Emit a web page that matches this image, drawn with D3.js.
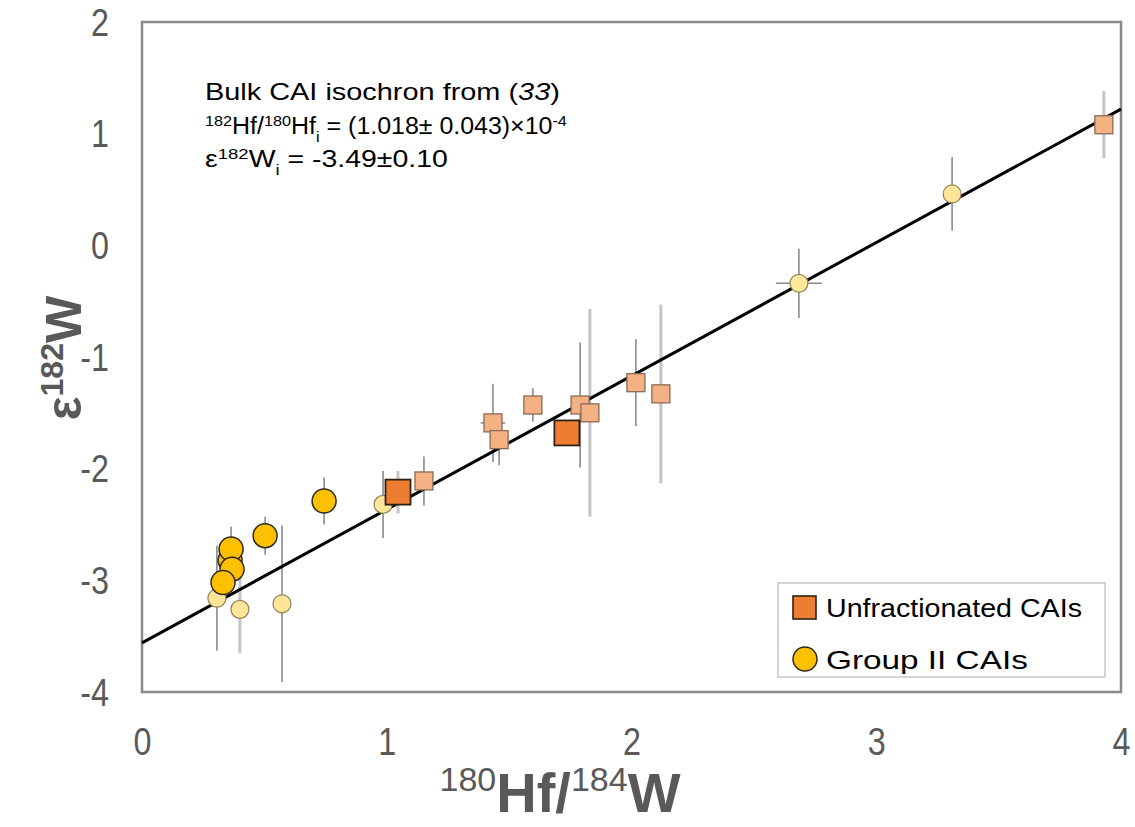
<!DOCTYPE html>
<html><head><meta charset="utf-8">
<script src="https://cdn.jsdelivr.net/npm/d3@7"></script>
<style>body{margin:0;background:#fff}</style>
</head><body>
<svg id="c" width="1135" height="827"></svg>
<script>
// ---- data ----
const xTicks = [0, 1, 2, 3, 4];
const yTicks = [2, 1, 0, -1, -2, -3, -4];
const isochron = [[0, -3.56], [4, 1.22]];
// other (fractionated) CAIs, squares: x, y, yErr, xErr, bar style (t = thin dark, w = wide light)
const lightSquares = [
  {x: 3.93, y: 1.08, ey: 0.30, ex: 0, s: "w"},
  {x: 1.152, y: -2.11, ey: 0.22, ex: 0, s: "t"},
  {x: 1.434, y: -1.59, ey: 0.35, ex: 0.05, s: "t"},
  {x: 1.459, y: -1.74, ey: 0.23, ex: 0, s: "t"},
  {x: 1.597, y: -1.43, ey: 0.15, ex: 0, s: "t"},
  {x: 1.79, y: -1.43, ey: 0.56, ex: 0, s: "t"},
  {x: 1.83, y: -1.50, ey: 0.93, ex: 0, s: "w"},
  {x: 2.018, y: -1.23, ey: 0.39, ex: 0, s: "t"},
  {x: 2.12, y: -1.33, ey: 0.80, ex: 0, s: "w"}
];
const unfractionated = [
  {x: 1.046, y: -2.21, ey: 0.19, ex: 0, s: "w"},
  {x: 1.736, y: -1.68, ey: 0.10, ex: 0, s: "t"}
];
// other CAIs, small circles
const lightCircles = [
  {x: 3.31, y: 0.46, ey: 0.33, ex: 0, s: "t"},
  {x: 2.684, y: -0.34, ey: 0.31, ex: 0.094, s: "t"},
  {x: 0.985, y: -2.32, ey: 0.30, ex: 0, s: "t"},
  {x: 0.306, y: -3.16, ey: 0.47, ex: 0, s: "t"},
  {x: 0.40, y: -3.26, ey: 0.39, ex: 0, s: "w"},
  {x: 0.572, y: -3.21, ey: 0.70, ex: 0, s: "t"}
];
const groupII = [
  {x: 0.744, y: -2.29, ey: 0.21, ex: 0, s: "t"},
  {x: 0.503, y: -2.60, ey: 0.17, ex: 0, s: "t"},
  {x: 0.36, y: -2.82, ey: 0.20, ex: 0, s: "w"},
  {x: 0.364, y: -2.72, ey: 0.20, ex: 0, s: "t"},
  {x: 0.368, y: -2.90, ey: 0.15, ex: 0, s: "t"},
  {x: 0.331, y: -3.02, ey: 0.15, ex: 0, s: "t"}
];
const legendLabels = ["Unfractionated CAIs", "Group II CAIs"];

// ---- layout ----
const svg = d3.select("#c");
const L = 142, R = 1121, T = 22, B = 692;
const x = d3.scaleLinear().domain([0, 4]).range([L, R]);
const y = d3.scaleLinear().domain([-4, 2]).range([B, T]);
const txt = "#595959";
const sans = "'Liberation Sans',Arial,sans-serif";
function fitWidth(sel, x0, target) {
  const w = sel.node().getBBox().width;
  const s = target / w;
  sel.attr("transform", `translate(${x0},0) scale(${s},1) translate(${-x0},0)`);
}

// frame
svg.append("rect").attr("x", L).attr("y", T).attr("width", R - L).attr("height", B - T)
  .attr("fill", "none").attr("stroke", "#898989").attr("stroke-width", 2.5);

// axes (labels only, condensed digits)
const xAxis = svg.append("g").attr("transform", `translate(0,${B})`)
  .call(d3.axisBottom(x).tickValues(xTicks).tickSize(0).tickPadding(36).tickFormat(d => String(d)));
xAxis.select(".domain").remove();
xAxis.selectAll("text").attr("fill", txt).attr("font-size", 38).attr("font-family", sans)
  .attr("transform", "scale(0.85,1)");
const yAxis = svg.append("g").attr("transform", `translate(${L},0)`)
  .call(d3.axisLeft(y).tickValues(yTicks).tickSize(0).tickPadding(33).tickFormat(d => String(d)));
yAxis.select(".domain").remove();
yAxis.selectAll("text").attr("fill", txt).attr("font-size", 38).attr("font-family", sans).attr("dy", "0.35em")
  .attr("transform", "translate(-33,0) scale(0.85,1) translate(33,0)");

// axis titles
const yl = svg.append("text").attr("transform", "translate(81,358) rotate(-90)")
  .attr("text-anchor", "middle").attr("fill", txt).attr("font-weight", "bold")
  .attr("font-family", sans).attr("font-size", 50);
yl.append("tspan").text("ε");
yl.append("tspan").attr("font-size", 32).attr("dy", -18).text("182");
yl.append("tspan").attr("dy", 18).text("W");

const xl = svg.append("text").attr("x", 560).attr("y", 812)
  .attr("text-anchor", "middle").attr("fill", txt).attr("font-weight", "bold")
  .attr("font-family", sans).attr("font-size", 56);
xl.append("tspan").attr("font-size", 34).attr("font-weight", "normal").attr("dy", -21).text("180");
xl.append("tspan").attr("dy", 21).text("Hf/");
xl.append("tspan").attr("font-size", 34).attr("font-weight", "normal").attr("dy", -21).text("184");
xl.append("tspan").attr("dy", 21).text("W");

// error bars
const all = [...lightCircles, ...lightSquares, ...unfractionated, ...groupII];
const eb = svg.append("g");
all.forEach(d => {
  const col = d.s === "w" ? "#c4c4c4" : "#8a8a8a";
  const w = d.s === "w" ? 3 : 1.6;
  eb.append("line").attr("x1", x(d.x)).attr("x2", x(d.x)).attr("y1", y(d.y + d.ey)).attr("y2", y(d.y - d.ey))
    .attr("stroke", col).attr("stroke-width", w);
  if (d.ex > 0) eb.append("line").attr("x1", x(d.x - d.ex)).attr("x2", x(d.x + d.ex)).attr("y1", y(d.y)).attr("y2", y(d.y))
    .attr("stroke", col).attr("stroke-width", w);
});

// isochron
svg.append("line").attr("x1", x(isochron[0][0])).attr("y1", y(isochron[0][1]))
  .attr("x2", x(isochron[1][0])).attr("y2", y(isochron[1][1]))
  .attr("stroke", "#000").attr("stroke-width", 3);

// markers
svg.append("g").selectAll("circle").data(lightCircles).join("circle")
  .attr("cx", d => x(d.x)).attr("cy", d => y(d.y)).attr("r", 9)
  .attr("fill", "#FFE699").attr("stroke", "#8f8256").attr("stroke-width", 1.2);
svg.append("g").selectAll("rect").data(lightSquares).join("rect")
  .attr("x", d => x(d.x) - 9).attr("y", d => y(d.y) - 9).attr("width", 18).attr("height", 18)
  .attr("fill", "#F4B183").attr("stroke", "#8c6a55").attr("stroke-width", 1.3);
svg.append("g").selectAll("circle").data(groupII).join("circle")
  .attr("cx", d => x(d.x)).attr("cy", d => y(d.y)).attr("r", 12)
  .attr("fill", "#FFC000").attr("stroke", "#2e2a20").attr("stroke-width", 1.5);
svg.append("g").selectAll("rect").data(unfractionated).join("rect")
  .attr("x", d => x(d.x) - 12.5).attr("y", d => y(d.y) - 12.5).attr("width", 25).attr("height", 25)
  .attr("fill", "#ED7D31").attr("stroke", "#2e2116").attr("stroke-width", 1.8);

// annotation
const ann = svg.append("g").attr("fill", "#000").attr("font-family", sans).attr("font-size", 23);
const a1 = ann.append("text").attr("x", 205).attr("y", 100);
a1.append("tspan").text("Bulk CAI isochron from (");
a1.append("tspan").attr("font-style", "italic").text("33");
a1.append("tspan").text(")");
fitWidth(a1, 205, 355);
const a2 = ann.append("text").attr("x", 205).attr("y", 134);
a2.append("tspan").attr("font-size", 15).attr("dy", -8).text("182");
a2.append("tspan").attr("dy", 8).text("Hf/");
a2.append("tspan").attr("font-size", 15).attr("dy", -8).text("180");
a2.append("tspan").attr("dy", 8).text("Hf");
a2.append("tspan").attr("font-size", 15).attr("dy", 8).text("i");
a2.append("tspan").attr("dy", -8).text(" = (1.018± 0.043)×10");
a2.append("tspan").attr("font-size", 15).attr("dy", -8).text("-4");
fitWidth(a2, 205, 362);
const a3 = ann.append("text").attr("x", 205).attr("y", 167);
a3.append("tspan").text("ε");
a3.append("tspan").attr("font-size", 15).attr("dy", -8).text("182");
a3.append("tspan").attr("dy", 8).text("W");
a3.append("tspan").attr("font-size", 15).attr("dy", 8).text("i");
a3.append("tspan").attr("dy", -8).text(" = -3.49±0.10");
fitWidth(a3, 205, 243);

// legend
const lg = svg.append("g");
lg.append("rect").attr("x", 778).attr("y", 583).attr("width", 327).attr("height", 94)
  .attr("fill", "#fff").attr("stroke", "#c8c8c8").attr("stroke-width", 1.5);
lg.append("rect").attr("x", 793).attr("y", 596).attr("width", 23).attr("height", 23)
  .attr("fill", "#ED7D31").attr("stroke", "#2e2116").attr("stroke-width", 1.6);
lg.append("circle").attr("cx", 805).attr("cy", 659).attr("r", 12)
  .attr("fill", "#FFC000").attr("stroke", "#2e2a20").attr("stroke-width", 1.5);
const legendTargets = [256, 202];
lg.selectAll("text").data(legendLabels).join("text")
  .attr("x", 826).attr("y", (d, i) => 617 + i * 52)
  .attr("font-family", sans).attr("font-size", 26).attr("fill", "#000")
  .text(d => d)
  .each(function(d, i) { fitWidth(d3.select(this), 826, legendTargets[i]); });
</script>
</body></html>
